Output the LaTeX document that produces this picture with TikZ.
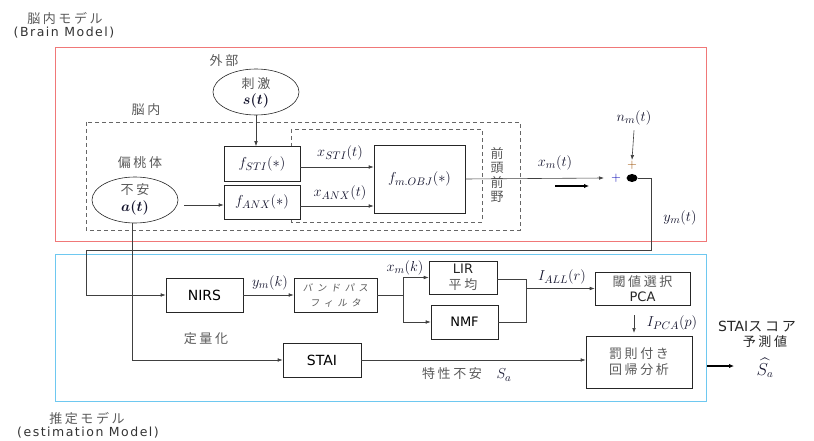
\documentclass[tikz,border=0pt]{standalone}
\usepackage{fontspec}
\usepackage{amsmath}
\usepackage{bm}
\newfontfamily\jp[LetterSpace=20]{Noto Sans CJK JP}
\newfontfamily\jpw[LetterSpace=45,FakeSlant=0.15]{Noto Sans CJK JP}
\newfontfamily\vs{DejaVu Sans}
\newfontfamily\vsw[LetterSpace=12]{DejaVu Sans}
\usetikzlibrary{arrows.meta,shapes.geometric}
\definecolor{redbox}{RGB}{240,120,120}
\definecolor{bluebox}{RGB}{110,200,240}
\definecolor{jgray}{RGB}{90,90,90}
\definecolor{mcol}{RGB}{20,20,45}
\tikzset{
  box/.style={draw=black!85, line width=0.6pt, fill=white, inner sep=0pt, align=center},
  ell/.style={ellipse, draw=black!85, line width=0.6pt, inner sep=0pt},
  dbox/.style={draw=black!60, line width=0.8pt, dash pattern=on 4pt off 3pt},
  conn/.style={draw=black!75, line width=0.6pt},
  arr/.style={conn, -{Latex[length=5pt,width=3.6pt]}},
  thick arr/.style={draw=black, line width=1.6pt, -{Latex[length=5pt,width=4.5pt]}},
  jt/.style={text=jgray, font=\jp\fontsize{13}{16}\selectfont, inner sep=0pt, align=center},
  ml/.style={text=mcol, font=\fontsize{15}{17}\selectfont, inner sep=0pt},
  lt/.style={text=black!85, font=\vs\fontsize{14}{16}\selectfont, inner sep=0pt, align=center},
}
\begin{document}
\begin{tikzpicture}[x=1pt,y=-1pt]
\path[use as bounding box] (0,0) rectangle (814,441);

% frames
\draw[redbox, line width=0.9pt] (55,47) rectangle (706,241);
\draw[bluebox, line width=0.9pt] (55,254) rectangle (706,401);
\node[jt] (lbrain) at (65,18) {脳内モデル};
\node[text=black!80, font=\vsw\fontsize{12.5}{15}\selectfont, inner sep=0pt] (lbrainen) at (64,33) {(Brain Model)};
\node[jt] (lest) at (87,419) {推定モデル};
\node[text=black!80, font=\vsw\fontsize{12.5}{15}\selectfont, inner sep=0pt] (lesten) at (88,433) {(estimation Model)};

% dashed regions
\draw[dbox] (86,122) rectangle (520,230);
\draw[dbox] (291,129) rectangle (482,222);
\node[jt] (lnai) at (146,110) {脳内};
\node[jt] (lgai) at (224,61) {外部};
\node[jt] (lhen) at (140,163) {偏桃体};
\node[jt, font=\jp\fontsize{13}{14.6}\selectfont] (lzen) at (497,175) {前\\頭\\前\\野};

% ellipses
\node[ell, minimum width=86, minimum height=46] (stim) at (256,92) {};
\node[jt] (stimj) at (256,84) {刺激};
\node[ml] (stims) at (256,101) {$\bm{s(t)}$};
\node[ell, minimum width=86, minimum height=46] (anx) at (135,200) {};
\node[jt] (anxj) at (135,190) {不安};
\node[ml] (anxs) at (135,208) {$\bm{a(t)}$};

% function boxes
\node[box, minimum width=76, minimum height=35] (fsti) at (262,164) {};
\node[ml] (tfsti) at (262,164) {$f_{STI}(*)$};
\node[box, minimum width=76, minimum height=34] (fanx) at (262,202) {};
\node[ml] (tfanx) at (262,202) {$f_{ANX}(*)$};
\node[box, minimum width=91, minimum height=68] (fobj) at (419.5,179) {};
\node[ml] (tfobj) at (419.5,179) {$f_{m.OBJ}(*)$};

% connectors brain
\draw[arr] (stim.south) -- (stim.south |- fsti.north);
\coordinate (anxout) at (184,205);
\draw[arr] (anxout) -- (anxout -| fanx.west);
\coordinate (stiout) at (300,167);
\coordinate (anxo2) at (300,206);
\draw[arr] (stiout) -- (stiout -| fobj.west);
\draw[arr] (anxo2) -- (anxo2 -| fobj.west);
\node[ml] (lxsti) at (340,153) {$x_{STI}(t)$};
\node[ml] (lxanx) at (340,193) {$x_{ANX}(t)$};

% summing point
\node[ellipse, fill=black, minimum width=11, minimum height=8, inner sep=0pt] (sum) at (632,178) {};
\coordinate (sumin) at (604,178);
\draw[arr] (fobj.east) -- (sumin);
\node[text=blue!70!black, font=\fontsize{13}{14}\selectfont, inner sep=0pt] (pl1) at (616,178) {+};
\node[text=orange!60!black, font=\fontsize{13}{14}\selectfont, inner sep=0pt] (pl2) at (632,165) {+};
\node[ml] (lxm) at (555,163) {$x_m(t)$};
\coordinate (thA) at (555,186);
\coordinate (thB) at (589,186);
\draw[thick arr] (thA) -- (thB);
\node[ml] (lnm) at (634,118) {$n_m(t)$};
\coordinate (nmend) at (632,160);
\draw[arr] (lnm.south) ++(0,5) -- (nmend);
\node[ml] (lym) at (680,218) {$y_m(t)$};

% estimation model boxes
\node[box, minimum width=77, minimum height=34, font=\vs\fontsize{14}{16}\selectfont] (nirs) at (204.5,295) {NIRS};
\node[box, minimum width=83, minimum height=34, text=jgray, font=\jpw\fontsize{9.5}{15}\selectfont] (bpf) at (335.5,295) {バンドパス\\フィルタ};
\node[box, minimum width=68, minimum height=33, text=black!85, font=\vs\fontsize{13}{15.5}\selectfont] (lir) at (463,277.5) {LIR\\{\jp\color{jgray}平均}};
\node[box, minimum width=67, minimum height=34, font=\vs\fontsize{13}{16}\selectfont] (nmf) at (464.5,322) {NMF};
\node[box, minimum width=95, minimum height=33, text=black!85, font=\vs\fontsize{13}{15.5}\selectfont] (pca) at (642.5,288.5) {{\jp\color{jgray}閾値選択}\\PCA};
\node[box, minimum width=106, minimum height=52, text=jgray, font=\jp\fontsize{13}{16}\selectfont] (pen) at (639,362) {罰則付き\\回帰分析};
\node[box, minimum width=78, minimum height=34, font=\vs\fontsize{14}{16}\selectfont] (stai) at (322,360) {STAI};

% feedback from brain model
\coordinate (c1) at (651,250);
\coordinate (c2) at (86,250);
\draw[arr] (sum.east) -| (c1) -- (c2) |- (nirs.west);
\draw[arr] (anx.south) ++(-3,0) |- (stai.west);
\node[jt] (lteiryo) at (206,339) {定量化};

% estimation connectors
\draw[arr] (nirs.east) -- (bpf.west);
\node[ml] (lymk) at (270,283) {$y_m(k)$};
\coordinate (split) at (403,295);
\draw[conn] (bpf.east) -- (split);
\draw[arr] (split) |- (lir.west);
\draw[arr] (split) |- (nmf.west);
\node[ml] (lxmk) at (405,268) {$x_m(k)$};
\coordinate (j1) at (526,279);
\coordinate (j2) at (526,322);
\draw[conn] (lir.east |- j1) -- (j1) -- (j2) -- (nmf.east);
\coordinate (j3) at (526,288.5);
\draw[arr] (j3) -- (pca.west);
\node[ml] (liall) at (562,277) {$I_{ALL}(r)$};
\coordinate (p1) at (634,315);
\coordinate (p2) at (634,333);
\draw[arr] (p1) -- (p2);
\node[ml] (lipca) at (672,323) {$I_{PCA}(p)$};
\draw[arr] (stai.east) -- (stai.east -| pen.west);
\node[jt] (ltoku) at (452,374) {特性不安};
\node[ml] (lsa) at (504,375) {$S_a$};

% output
\coordinate (o1) at (707,366);
\coordinate (o2) at (734,366);
\draw[thick arr] (o1) -- (o2);
\node[lt, anchor=west] (lout1) at (718,327) {STAI{\jp\color{black!85}スコア}};
\node[jt, text=black!85] (lout2) at (765,342) {予測値};
\node[ml, font=\fontsize{16}{18}\selectfont] (lout3) at (765,368) {$\widehat{S_a}$};
\end{tikzpicture}
\end{document}
